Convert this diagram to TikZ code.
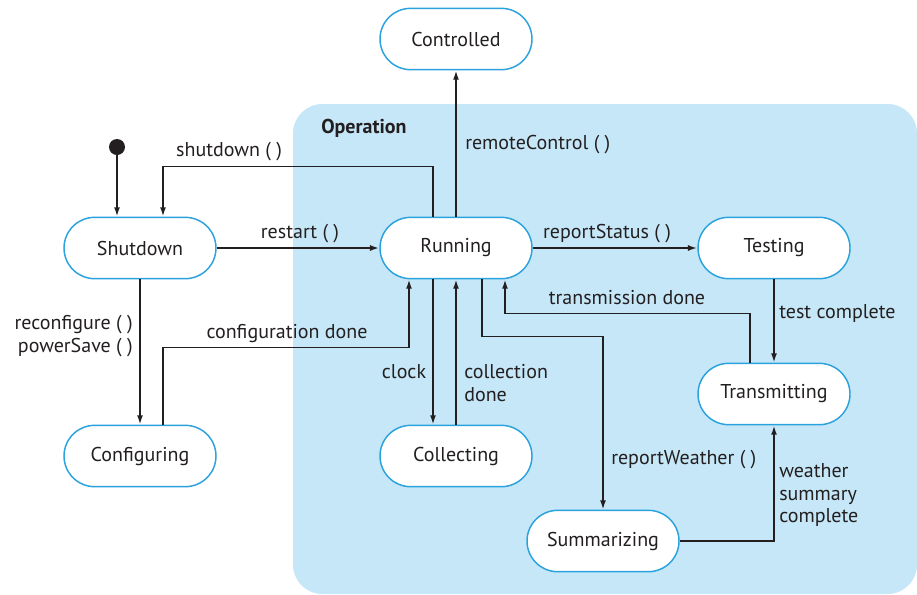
\documentclass[tikz,border=0pt]{standalone}
\usepackage{fontspec}
\setmainfont{PT Sans}
\usetikzlibrary{arrows.meta,calc}
\definecolor{opblue}{HTML}{C6E7F8}
\definecolor{edgeblue}{HTML}{2AA2DE}
\definecolor{ink}{HTML}{231F20}

\begin{document}
\begin{tikzpicture}[x=0.75pt,y=-0.75pt,
    stateNode/.style={draw=edgeblue,line width=1.1pt,fill=white,rounded corners=23pt,
      minimum width=114pt,minimum height=46pt,text=ink,font=\fontsize{15}{17}\selectfont},
    trans/.style={draw=ink,line width=1.3pt,-{Latex[length=7pt,width=4.5pt]}},
    lbl/.style={text=ink,inner sep=0pt,font=\fontsize{15}{17}\selectfont}]
    \useasboundingbox (0,0) rectangle (917,594);

    % Operation region
    \fill[opblue,rounded corners=22pt] (293,104) rectangle (917,594);
    \node[lbl,anchor=west,font=\fontsize{15}{17}\selectfont\bfseries] (opname) at (321,128) {Operation};

    % States
    \node[stateNode] (ctrl) at (456,39) {Controlled};
    \node[stateNode] (shut) at (140,248) {Shutdown};
    \node[stateNode] (run) at (456,248) {Running};
    \node[stateNode] (test) at (774,248) {Testing};
    \node[stateNode] (trans) at (774,394) {Transmitting};
    \node[stateNode] (cfg) at (140,456) {Configuring};
    \node[stateNode] (coll) at (456,456) {Collecting};
    \node[stateNode] (summ) at (603,541) {Summarizing};

    % Initial state
    \node[circle,fill=ink,inner sep=0pt,minimum size=12pt] (init) at (117,147) {};
    \draw[trans] (init.south) -- ($(shut.north)+(-23,0)$);

    % Transitions out of Running
    \draw[trans] ($(run.north)+(-23,0)$) |- ($(shut.north)+(23,-50)$) -- ($(shut.north)+(23,0)$);
    \draw[trans] (run.north) -- (ctrl.south);
    \draw[trans] (run.east) -- (test.west);
    \draw[trans] ($(run.south)+(-23,0)$) -- ($(coll.north)+(-23,0)$);
    \draw[trans] ($(run.south)+(26,0)$) |- ($(summ.north)+(0,-173)$) -- (summ.north);

    % Transitions back into Running
    \draw[trans] (shut.east) -- (run.west);
    \draw[trans] ($(cfg.north)+(23,0)$) |- ($(run.south)+(-47,68)$) -- ($(run.south)+(-47,0)$);
    \draw[trans] (coll.north) -- (run.south);
    \draw[trans] ($(trans.north)+(-24,0)$) |- ($(run.south)+(49,34)$) -- ($(run.south)+(49,0)$);

    % Remaining transitions
    \draw[trans] (shut.south) -- (cfg.north);
    \draw[trans] (test.south) -- (trans.north);
    \draw[trans] (summ.east) -| (trans.south);

    % Labels
    \node[lbl] (lshut) at (229,152) {shutdown ( )};
    \node[lbl] (lrestart) at (300,234) {restart ( )};
    \node[lbl,anchor=west] (lremote) at (465,145) {remoteControl ( )};
    \node[lbl] (lstatus) at (607,234) {reportStatus ( )};
    \node[lbl] (ltxdone) at (627,298) {transmission done};
    \node[lbl,anchor=west] (ltest) at (779,313) {test complete};
    \node[lbl,anchor=east,align=right] (lreconf) at (133,336) {reconfigure ( )\\powerSave ( )};
    \node[lbl] (lcfgdone) at (287,334) {configuration done};
    \node[lbl] (lclock) at (404,372) {clock};
    \node[lbl,anchor=west,align=left] (lcolldone) at (464,383) {collection\\done};
    \node[lbl,anchor=west] (lweather) at (611,460) {reportWeather ( )};
    \node[lbl,anchor=west,align=left] (lsumm) at (779,495) {weather\\summary\\complete};
\end{tikzpicture}
\end{document}
